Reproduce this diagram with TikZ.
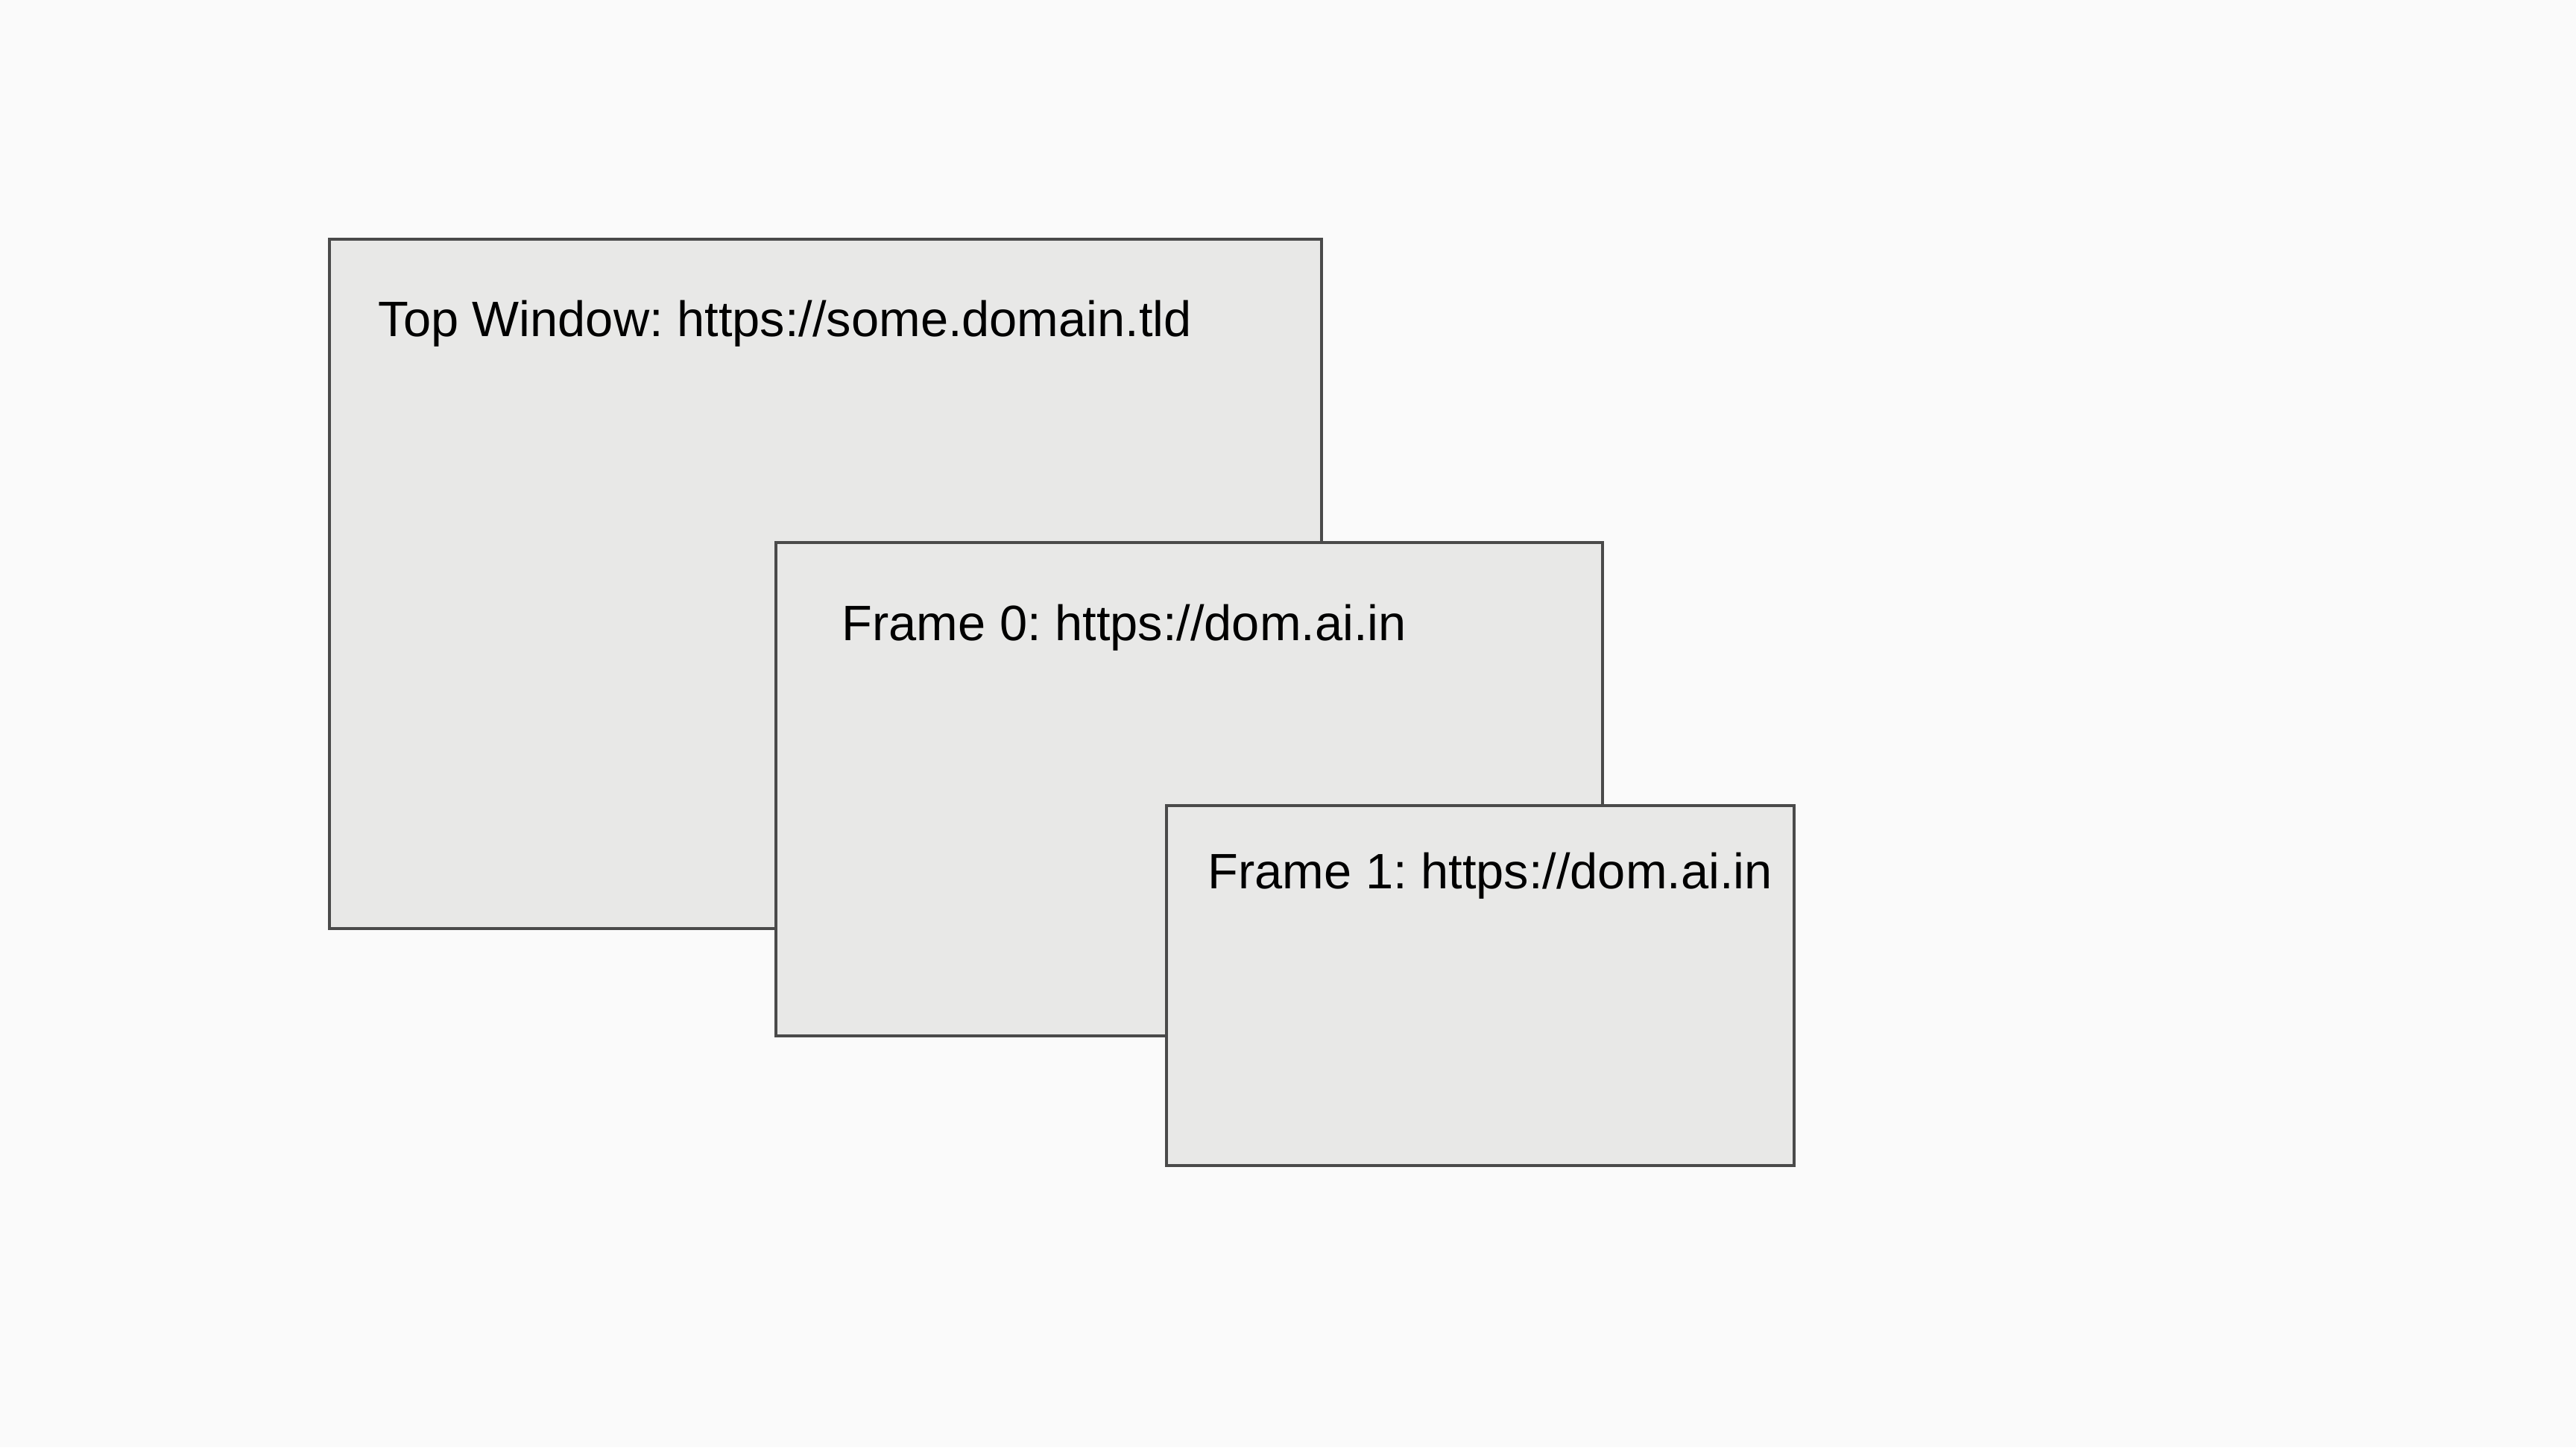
\documentclass[tikz,border=0pt]{standalone}
\usepackage{fontspec}
\setmainfont{Liberation Sans}
\usetikzlibrary{calc}
\frenchspacing

\definecolor{pagebg}{HTML}{FAFAFA}
\definecolor{boxfill}{HTML}{E8E8E7}
\definecolor{boxline}{HTML}{4A4A4A}

\tikzset{
  winbox/.style={rectangle, draw=boxline, fill=boxfill, line width=1pt,
    anchor=north west, inner sep=0pt},
  wintitle/.style={anchor=base west, inner sep=0pt,
    font=\fontsize{19}{23}\selectfont}
}

\begin{document}
\begin{tikzpicture}
  \fill[pagebg] (0, 0) rectangle (34.56, 19.42);
  \node (top) [winbox, minimum width=13.31cm, minimum height=9.25cm] at (4.40, 16.23) {};
  \node (toptxt) [wintitle] at ($(top.north west)+(0.67,-1.33)$) {Top Window: https://some.domain.tld};
  \node (frame0) [winbox, minimum width=11.09cm, minimum height=6.62cm] at (10.39, 12.16) {};
  \node (frame0txt) [wintitle] at ($(frame0.north west)+(0.90,-1.34)$) {Frame 0: https://dom.ai.in};
  \node (frame1) [winbox, minimum width=8.42cm, minimum height=4.83cm] at (15.63, 8.63) {};
  \node (frame1txt) [wintitle] at ($(frame1.north west)+(0.57,-1.13)$) {Frame 1: https://dom.ai.in};
\end{tikzpicture}
\end{document}
